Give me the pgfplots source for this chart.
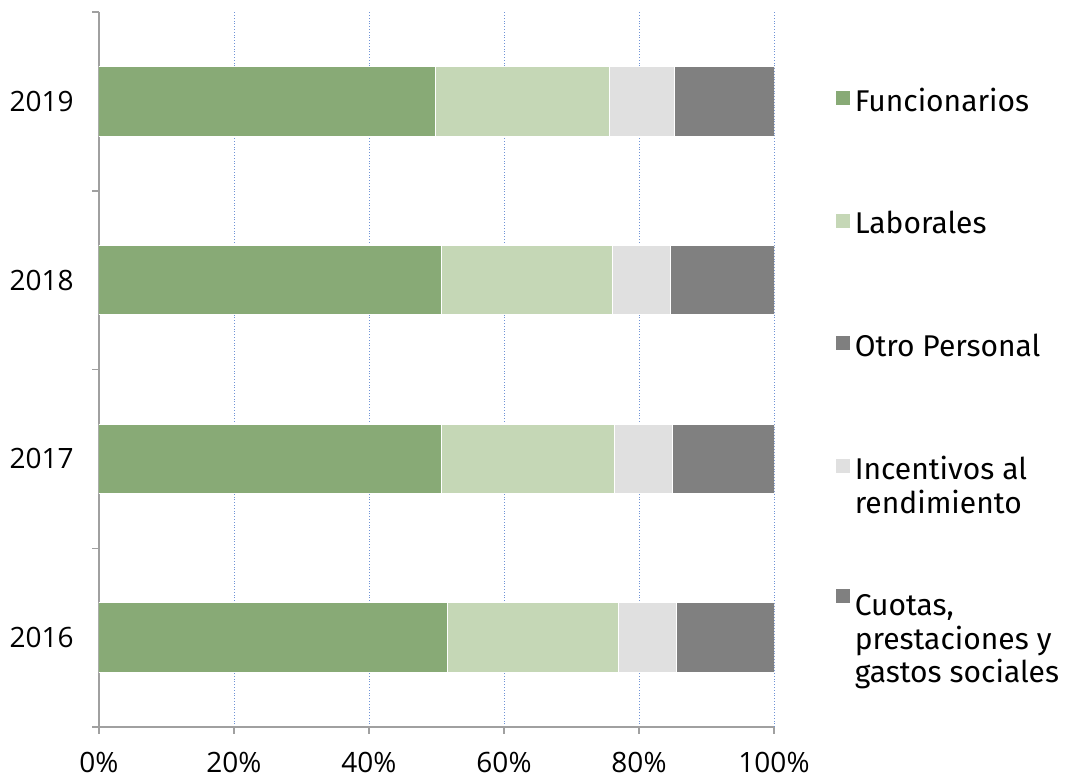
\documentclass[border=0pt]{standalone}
\usepackage{pgfplots}
\usepackage{pgfplotstable}
\pgfplotsset{compat=1.18}
\usepackage{fontspec}
\setmainfont{Fira Sans}
\newfontfamily\opensans{Open Sans}

\definecolor{func}{HTML}{88AA76}
\definecolor{labo}{HTML}{C5D7B6}
\definecolor{incent}{HTML}{E0E0E0}
\definecolor{cuotas}{HTML}{808080}
\definecolor{otro}{HTML}{7F7F7F}
\definecolor{gridblue}{HTML}{6F93D6}
\definecolor{axisgray}{HTML}{A0A0A0}

% shares of total, in %
\pgfplotstableread{
pos func labo otro incent cuotas
0   51.6 25.3 0   8.6 14.5
1   50.7 25.7 0   8.6 15.0
2   50.7 25.4 0   8.6 15.3
3   49.8 25.9 0   9.5 14.8
}\datatable

\newcommand{\multientry}[1]{\begin{tabular}[t]{@{}l@{}}#1\end{tabular}}

\begin{document}
\fontsize{15}{16.5}\selectfont
\begin{tikzpicture}
\useasboundingbox (0,0) rectangle (533pt,391pt);
\begin{axis}[
  at={(49.5pt,27.5pt)}, anchor=south west,
  scale only axis,
  width=337.5pt, height=357.5pt,
  xbar stacked,
  bar width=0.39,
  xmin=0, xmax=100,
  ymin=-0.5, ymax=3.5,
  axis x line*=bottom,
  axis y line*=left,
  axis line style={draw=axisgray, line width=0.75pt},
  xtick={0,20,40,60,80,100},
  xticklabel={\pgfmathprintnumber{\tick}\%},
  xtick style={draw=axisgray, line width=0.75pt},
  major tick length=3.5pt,
  xmajorgrids,
  grid style={densely dotted, gridblue, line width=0.5pt},
  ytick={0,1,2,3},
  yticklabels={2016,2017,2018,2019},
  major y tick style={draw=none},
  minor ytick={-0.5,0.5,1.5,2.5,3.5},
  minor y tick style={draw=axisgray, line width=0.75pt},
  minor tick length=3.5pt,
  tick align=outside,
  tick label style={font=\opensans\fontsize{14}{16}\selectfont},
  yticklabel style={xshift=-4pt},
  xticklabel style={yshift=-4pt},
  /pgf/number format/assume math mode=true,
  legend cell align=left,
  legend style={
    at={(1.082,0.903)}, anchor=north west,
    draw=none, fill=none,
    row sep=45.8pt,
    nodes={inner xsep=2.5pt, inner ysep=1pt},
  },
  legend image code/.code={\fill[#1,draw=none] (-3pt,-1.5pt) rectangle (4pt,5.5pt);},
  every axis plot/.append style={draw=white, line width=0.5pt},
]
\addplot[fill=func] table[x=func, y=pos] {\datatable};
\addlegendentry{Funcionarios}
\addplot[fill=labo] table[x=labo, y=pos] {\datatable};
\addlegendentry{Laborales}
\addplot[fill=otro] table[x=otro, y=pos] {\datatable};
\addlegendentry{Otro Personal}
\addplot[fill=incent] table[x=incent, y=pos] {\datatable};
\addlegendentry{\multientry{Incentivos al\\rendimiento}}
\addplot[fill=cuotas] table[x=cuotas, y=pos] {\datatable};
\addlegendentry{\multientry{\rule{0pt}{18pt}Cuotas,\\prestaciones y\\gastos sociales}}
\end{axis}
\end{tikzpicture}
\end{document}
